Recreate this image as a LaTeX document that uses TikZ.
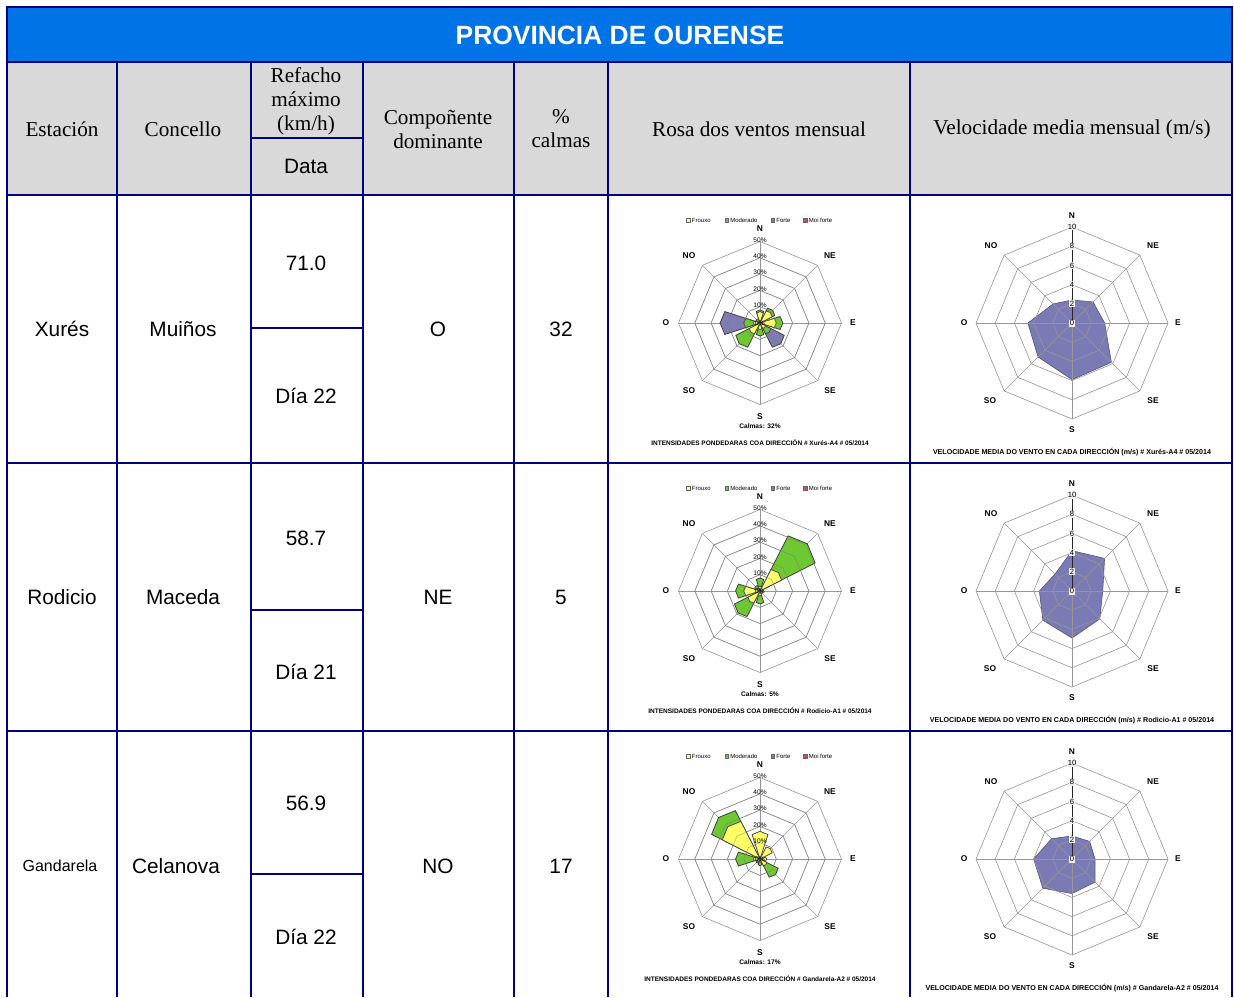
\documentclass[tikz,border=0pt]{standalone}
\usepackage{fontspec}
\setmainfont{Liberation Serif}
\setsansfont{Liberation Sans}
\definecolor{hdrblue}{RGB}{0,115,230}
\definecolor{hdrgray}{RGB}{217,217,217}
\definecolor{navyc}{RGB}{0,0,128}
\definecolor{frx}{RGB}{255,255,102}
\definecolor{modc}{RGB}{110,200,50}
\definecolor{frtc}{RGB}{125,125,180}
\definecolor{moic}{RGB}{220,70,70}
\definecolor{velf}{RGB}{122,122,180}
\definecolor{grd}{RGB}{150,150,150}

% wedge of a wind rose: #1 compass angle, #2 value in %, #3 style
\newcommand\rw[3]{\filldraw[#3] (0,0) -- (#1-108:{1.509*#2}) -- (#1-90:{1.63*#2}) -- (#1-72:{1.509*#2}) -- cycle;}

\newcommand\roseback{%
  \foreach \a in {-90,-45,...,225}{\draw[gridl] (0,0) -- (\a:81.5);}
  \foreach \k in {1,...,5}{\draw[gridl] (-90:{16.3*\k}) -- (-45:{16.3*\k}) -- (0:{16.3*\k}) -- (45:{16.3*\k}) -- (90:{16.3*\k}) -- (135:{16.3*\k}) -- (180:{16.3*\k}) -- (225:{16.3*\k}) -- cycle;}}

\newcommand\rosefront[3]{%
  \foreach \k in {1,...,4}{\draw[gridtop] (-90:{16.3*\k}) -- (-45:{16.3*\k}) -- (0:{16.3*\k}) -- (45:{16.3*\k}) -- (90:{16.3*\k}) -- (135:{16.3*\k}) -- (180:{16.3*\k}) -- (225:{16.3*\k}) -- cycle;}
  \foreach \k/\l in {1/10,2/20,3/30,4/40,5/50}{\node[pctl] (#1p\k) at (0,{-16.3*\k-1.5}) {\l\%};}
  \node[pctl] (#1p0) at (0,0) {0\%};
  \node[dirl] (#1N) at (0,-94) {N};
  \node[dirl] (#1NE) at (70,-67) {NE};
  \node[dirl] (#1E) at (93,0) {E};
  \node[dirl] (#1SE) at (70,68) {SE};
  \node[dirl] (#1S) at (0,94) {S};
  \node[dirl] (#1SO) at (-71,68) {SO};
  \node[dirl] (#1O) at (-94,0) {O};
  \node[dirl] (#1NO) at (-71,-67) {NO};
  \foreach \xx/\cc/\lt [count=\i] in {-72/frx/Frouxo,-33.5/modc/Moderado,12.5/frtc/Forte,45/moic/Moi forte}{%
    \filldraw[fill=\cc, draw=black!60, line width=0.2pt] (\xx-1.8,-104.8) rectangle (\xx+1.8,-101.2);
    \node[legt] (#1L\i) at (\xx+3.5,-103) {\lt};}
  \node[calm] (#1cal) at (0,103) {Calmas: #2\%};
  \node[rttl] (#1ttl) at (0,120) {INTENSIDADES PONDEDARAS COA DIRECCIÓN \# #3 \# 05/2014};
}

\newcommand\velpoly[8]{\filldraw[vpoly] (-90:{9.6*#1}) -- (-45:{9.6*#2}) -- (0:{9.6*#3}) -- (45:{9.6*#4}) -- (90:{9.6*#5}) -- (135:{9.6*#6}) -- (180:{9.6*#7}) -- (225:{9.6*#8}) -- cycle;}

\newcommand\velfront[2]{%
  \foreach \a in {-45,0,...,225}{\draw[gridl] (0,0) -- (\a:96);}
  \foreach \k in {1,...,5}{\draw[gridl] (-90:{19.2*\k}) -- (-45:{19.2*\k}) -- (0:{19.2*\k}) -- (45:{19.2*\k}) -- (90:{19.2*\k}) -- (135:{19.2*\k}) -- (180:{19.2*\k}) -- (225:{19.2*\k}) -- cycle;}
  \draw[vaxis] (0,0) -- (0,-96);
  \foreach \k in {1,...,5}{\draw[vaxis] (-2,{-19.2*\k}) -- (2,{-19.2*\k});}
  \foreach \k/\l in {1/2,2/4,3/6,4/8,5/10}{\node[vnum] (#1v\k) at (0,{-19.2*\k}) {\l};}
  \node[vnum] (#1v0) at (0,0) {0};
  \node[dirl] (#1N) at (0,-107) {N};
  \node[dirl] (#1NE) at (81,-77) {NE};
  \node[dirl] (#1E) at (106,0) {E};
  \node[dirl] (#1SE) at (81,78) {SE};
  \node[dirl] (#1S) at (0,107) {S};
  \node[dirl] (#1SO) at (-82,78) {SO};
  \node[dirl] (#1O) at (-108,0) {O};
  \node[dirl] (#1NO) at (-81,-77) {NO};
  \node[vttl] (#1ttl) at (0,129) {VELOCIDADE MEDIA DO VENTO EN CADA DIRECCIÓN (m/s) \# #2 \# 05/2014};
}

\begin{document}
\begin{tikzpicture}[x=0.5pt,y=-0.5pt,
  tline/.style={draw=navyc, line width=1pt},
  gridl/.style={draw=grd, line width=0.3pt},
  gridtop/.style={draw=grd!80!black, line width=0.25pt, opacity=0.6},
  fx/.style={fill=frx, draw=black!70, line width=0.4pt},
  md/.style={fill=modc, draw=black!75, line width=0.4pt},
  ft/.style={fill=frtc, draw=black!75, line width=0.4pt},
  vpoly/.style={fill=velf, draw=velf!70!black, line width=0.3pt},
  vaxis/.style={draw=black!85, line width=0.5pt},
  hs/.style={font=\fontsize{10.6}{12}\selectfont, align=center, inner sep=0pt},
  bs/.style={font=\sffamily\fontsize{10.4}{12}\selectfont, inner sep=0pt},
  titlef/.style={font=\sffamily\bfseries\fontsize{13.2}{15}\selectfont, text=white, inner sep=0pt},
  dirl/.style={font=\sffamily\bfseries\fontsize{4.2}{5}\selectfont, inner sep=0pt},
  pctl/.style={font=\sffamily\fontsize{3.3}{4}\selectfont, inner sep=0.2pt},
  legt/.style={font=\sffamily\fontsize{3}{4}\selectfont, inner sep=0pt, anchor=west},
  calm/.style={font=\sffamily\bfseries\fontsize{3.3}{4}\selectfont, inner sep=0pt},
  rttl/.style={font=\sffamily\bfseries\fontsize{3.25}{4}\selectfont, inner sep=0pt},
  vttl/.style={font=\sffamily\bfseries\fontsize{3.55}{4}\selectfont, inner sep=0pt},
  vnum/.style={font=\sffamily\fontsize{3.8}{4.5}\selectfont, fill=white!88!gray, inner sep=0.4pt}
]
\useasboundingbox (0,0) rectangle (1234,997);
\fill[white] (0,0) rectangle (1234,997);
\fill[hdrblue] (7,7) rectangle (1232,62);
\fill[hdrgray] (7,62) rectangle (1232,195);
\node[titlef] (title) at (620,35) {PROVINCIA DE OURENSE};

% header texts
\node[hs] (hEst) at (62,129) {Estación};
\node[hs] (hCon) at (183,129) {Concello};
\node[hs] (hRef) at (306,101) {Refacho\\máximo\\(km/h)};
\node[bs] (hDat) at (306,166) {Data};
\node[hs] (hCom) at (438,129) {Compoñente\\dominante};
\node[hs] (hCal) at (561,129) {\%\\calmas};
\node[hs] (hRos) at (759,129) {Rosa dos ventos mensual};
\node[hs] (hVel) at (1072,129) {Velocidade media mensual (m/s)};

% row 1
\node[bs] (r1a) at (62,329) {Xurés};
\node[bs] (r1b) at (183,329) {Muiños};
\node[bs] (r1c) at (306,263) {71.0};
\node[bs] (r1d) at (306,396) {Día 22};
\node[bs] (r1e) at (438,329) {O};
\node[bs] (r1f) at (561,329) {32};
% row 2
\node[bs] (r2a) at (62,597) {Rodicio};
\node[bs] (r2b) at (183,597) {Maceda};
\node[bs] (r2c) at (306,538) {58.7};
\node[bs] (r2d) at (306,672) {Día 21};
\node[bs] (r2e) at (438,597) {NE};
\node[bs] (r2f) at (561,597) {5};
% row 3
\node[font=\sffamily\fontsize{8}{10}\selectfont, inner sep=0pt] (r3a) at (60,866) {Gandarela};
\node[bs] (r3b) at (176,866) {Celanova};
\node[bs] (r3c) at (306,803) {56.9};
\node[bs] (r3d) at (306,937) {Día 22};
\node[bs] (r3e) at (438,866) {NO};
\node[bs] (r3f) at (561,866) {17};

% ---- wind roses ----
\begin{scope}[shift={(760,323)}]
  \roseback
  \rw{270}{24.5}{ft} \rw{135}{18}{ft}
  \rw{270}{10}{md} \rw{135}{8}{md} \rw{0}{8}{md} \rw{45}{11}{md} \rw{90}{14}{md} \rw{180}{8}{md} \rw{225}{18}{md}
  \rw{0}{7}{fx} \rw{45}{9}{fx} \rw{90}{10}{fx} \rw{135}{4}{fx} \rw{180}{4}{fx} \rw{225}{8}{fx} \rw{270}{4}{fx} \rw{315}{3}{fx}
  \rosefront{ra}{32}{Xurés-A4}
\end{scope}
\begin{scope}[shift={(760,591)}]
  \roseback
  \rw{45}{41}{md} \rw{0}{8}{md} \rw{270}{15}{md} \rw{225}{19}{md} \rw{180}{8}{md} \rw{315}{4}{md}
  \rw{45}{16}{fx} \rw{0}{3}{fx} \rw{270}{10}{fx} \rw{225}{9}{fx} \rw{180}{3}{fx} \rw{90}{2}{fx} \rw{135}{2}{fx} \rw{315}{2}{fx}
  \rosefront{rb}{5}{Rodicio-A1}
\end{scope}
\begin{scope}[shift={(760,859)}]
  \roseback
  \rw{315}{36}{md} \rw{270}{15}{md} \rw{135}{13.5}{md} \rw{180}{4}{md} \rw{225}{3}{md}
  \rw{315}{28}{fx} \rw{0}{17}{fx} \rw{45}{9}{fx} \rw{90}{4}{fx} \rw{270}{4}{fx} \rw{135}{5}{fx} \rw{180}{2}{fx} \rw{225}{2}{fx}
  \rosefront{rc}{17}{Gandarela-A2}
\end{scope}

% ---- mean speed charts ----
\begin{scope}[shift={(1072,323)}]
  \velpoly{2.4}{3.1}{3.4}{5.8}{5.9}{5.0}{4.6}{2.8}
  \velfront{va}{Xurés-A4}
\end{scope}
\begin{scope}[shift={(1072,591)}]
  \velpoly{4.2}{4.8}{3.2}{4.1}{4.9}{4.3}{3.4}{2.5}
  \velfront{vb}{Rodicio-A1}
\end{scope}
\begin{scope}[shift={(1072,859)}]
  \velpoly{2.4}{2.6}{2.4}{3.4}{3.6}{4.3}{4.0}{3.0}
  \velfront{vc}{Gandarela-A2}
\end{scope}

% table rules
\draw[tline] (7,997) -- (7,7) -- (1232,7) -- (1232,997);
\foreach \yy in {62,195,463,731}{\draw[tline] (7,\yy) -- (1232,\yy);}
\foreach \xx in {117,251,363,514,608,910}{\draw[tline] (\xx,62) -- (\xx,997);}
\foreach \yy in {138,328,610,874}{\draw[tline] (251,\yy) -- (363,\yy);}
\end{tikzpicture}
\end{document}
